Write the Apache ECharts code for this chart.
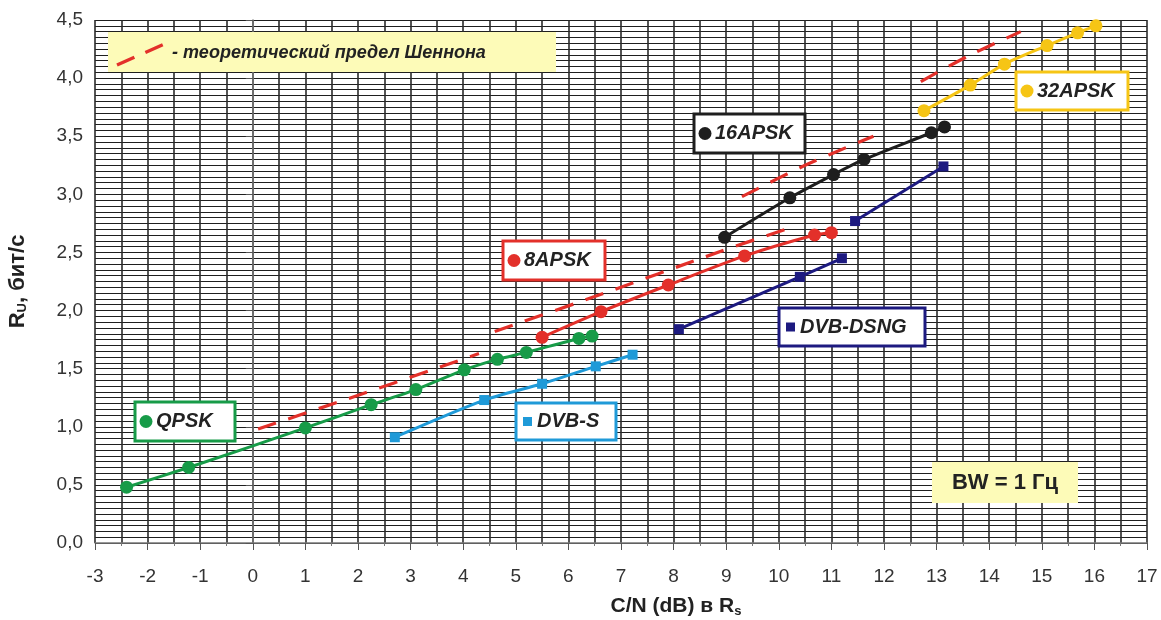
<!DOCTYPE html>
<html>
<head>
<meta charset="utf-8">
<script src="https://cdn.jsdelivr.net/npm/echarts@6/dist/echarts.min.js"></script>
<style>
html,body{margin:0;padding:0;background:#fff;}
#chart{width:1161px;height:620px;}
</style>
</head>
<body>
<div id="chart"></div>
<script>
// ---- data ----
const qpskX = [-2.40, -1.22, 1.00, 2.25, 3.10, 4.02, 4.65, 5.20, 6.20, 6.45];
const qpskY = [0.48, 0.65, 0.99, 1.19, 1.32, 1.49, 1.58, 1.64, 1.76, 1.78];
const apsk8X = [5.50, 6.62, 7.90, 9.35, 10.68, 11.00];
const apsk8Y = [1.77, 1.99, 2.22, 2.47, 2.65, 2.67];
const apsk16X = [8.97, 10.21, 11.04, 11.62, 12.90, 13.15];
const apsk16Y = [2.63, 2.97, 3.17, 3.30, 3.53, 3.58];
const apsk32X = [12.76, 13.64, 14.29, 15.10, 15.68, 16.03];
const apsk32Y = [3.72, 3.94, 4.12, 4.28, 4.39, 4.45];
const dvbsX = [2.70, 4.40, 5.50, 6.52, 7.22];
const dvbsY = [0.91, 1.23, 1.37, 1.52, 1.62];
const dsngAX = [8.10, 10.40, 11.20];
const dsngAY = [1.84, 2.29, 2.45];
const dsngBX = [11.45, 13.13];
const dsngBY = [2.77, 3.24];
// Shannon theoretical limit segments (dashed)
const shan1X = [0.10, 1.80, 3.60, 4.30];
const shan1Y = [0.98, 1.24, 1.52, 1.63];
const shan2X = [4.60, 6.50, 8.90, 10.20];
const shan2Y = [1.82, 2.12, 2.51, 2.71];
const shan3X = [9.30, 10.50, 11.80];
const shan3Y = [2.98, 3.25, 3.50];
const shan4X = [12.70, 13.60, 14.60];
const shan4Y = [3.97, 4.19, 4.40];
// axis ranges / ticks
const xMin = -3, xMax = 17, xStep = 1;
const yMin = 0, yMax = 4.5, yStep = 0.5;

const pair = (xs, ys) => xs.map((x, i) => [x, ys[i]]);

const C = {
  green: '#179b48', red: '#e3302a', black: '#1e1e1e', yellow: '#f6c515',
  blue: '#1f9ad8', navy: '#1d1a80', dash: '#e3302a'
};
const FONT = "'Liberation Sans', Arial, sans-serif";
const ZT = 100;

function ptSeries(name, data, color, symbol, size) {
  return {
    name, type: 'line', data, smooth: 0.25,
    symbol, symbolSize: size, showSymbol: true,
    lineStyle: { color, width: 3 },
    itemStyle: { color },
    z: 5
  };
}
function shanSeries(data) {
  return {
    name: 'теоретический предел Шеннона', type: 'line', data, smooth: 0.3,
    symbol: 'none',
    lineStyle: { color: C.dash, width: 3.2, type: [19, 13] },
    z: 4
  };
}

function box(x, y, w, h, color, mark, text) {
  const children = [
    { type: 'rect', z: ZT, shape: { x, y, width: w, height: h },
      style: { fill: '#fff', stroke: color, lineWidth: 3 } }
  ];
  const cy = y + h / 2;
  if (mark === 'circle') {
    children.push({ type: 'circle', z: ZT + 1, shape: { cx: x + 11, cy, r: 6.5 }, style: { fill: color } });
  } else {
    children.push({ type: 'rect', z: ZT + 1, shape: { x: x + 7, y: cy - 4.5, width: 9, height: 9 }, style: { fill: color } });
  }
  children.push({ type: 'text', z: ZT + 1, x: x + 21, y: cy,
    style: { text, fill: '#222', font: "italic bold 20px " + FONT, verticalAlign: 'middle', align: 'left' } });
  return children;
}

const chart = echarts.init(document.getElementById('chart'), null, { renderer: 'canvas' });

const gridLine = { show: true, lineStyle: { color: '#1f1f1f', width: 1 } };
const gridLineV = { show: true, lineStyle: { color: '#2a2a2a', width: 1.6 } };

const option = {
  backgroundColor: '#fff',
  animation: false,
  grid: { left: 95, right: 14, top: 20, bottom: 77, containLabel: false, outerBoundsMode: 'none' },
  xAxis: {
    type: 'value', min: xMin, max: xMax, interval: xStep,
    name: '{r|C/N (dB) в R}{sub|s}',
    nameLocation: 'middle', nameGap: 52,
    nameTextStyle: {
      padding: [0, 0, 0, 110],
      rich: {
        r: { fontFamily: FONT, fontWeight: 'bold', fontSize: 21, color: '#222' },
        sub: { fontFamily: FONT, fontWeight: 'bold', fontSize: 13, color: '#222', padding: [10, 0, 0, 0] }
      }
    },
    axisLine: { show: true, lineStyle: { color: '#777', width: 1.5 } },
    axisTick: { show: true, length: 7, lineStyle: { color: '#555' } },
    minorTick: { show: true, splitNumber: 2, length: 3, lineStyle: { color: '#777' } },
    axisLabel: { fontFamily: FONT, fontSize: 19, color: '#333', margin: 24 },
    splitLine: gridLineV,
    minorSplitLine: gridLineV
  },
  yAxis: {
    type: 'value', min: yMin, max: yMax, interval: yStep,
    name: '{r|R}{sub|U}{r|, бит/с}',
    nameLocation: 'middle', nameGap: 66, nameRotate: 90,
    nameTextStyle: {
      rich: {
        r: { fontFamily: FONT, fontWeight: 'bold', fontSize: 22, color: '#222' },
        sub: { fontFamily: FONT, fontWeight: 'bold', fontSize: 13, color: '#222', padding: [10, 0, 0, 0] }
      }
    },
    axisLine: { show: true, lineStyle: { color: '#777', width: 1.5 } },
    axisTick: { show: true, length: 7, lineStyle: { color: '#555' } },
    minorTick: { show: false, splitNumber: 10 },
    axisLabel: {
      fontFamily: FONT, fontSize: 19, color: '#333', margin: 12,
      formatter: v => v.toFixed(1).replace('.', ',')
    },
    splitLine: gridLine,
    minorSplitLine: gridLine
  },
  series: [
    shanSeries(pair(shan1X, shan1Y)),
    shanSeries(pair(shan2X, shan2Y)),
    shanSeries(pair(shan3X, shan3Y)),
    shanSeries(pair(shan4X, shan4Y)),
    ptSeries('QPSK', pair(qpskX, qpskY), C.green, 'circle', 13),
    ptSeries('8APSK', pair(apsk8X, apsk8Y), C.red, 'circle', 13),
    ptSeries('16APSK', pair(apsk16X, apsk16Y), C.black, 'circle', 13),
    ptSeries('32APSK', pair(apsk32X, apsk32Y), C.yellow, 'circle', 13),
    ptSeries('DVB-S', pair(dvbsX, dvbsY), C.blue, 'rect', 10),
    ptSeries('DVB-DSNG', pair(dsngAX, dsngAY), C.navy, 'rect', 10),
    ptSeries('DVB-DSNG', pair(dsngBX, dsngBY), C.navy, 'rect', 10)
  ],
  graphic: { elements: [
    { type: 'rect', z: ZT, shape: { x: 108, y: 32, width: 448, height: 40 }, style: { fill: '#fdfbb8' } },
    { type: 'line', z: ZT + 1, shape: { x1: 117, y1: 65, x2: 169, y2: 42 },
      style: { stroke: C.dash, lineWidth: 3.4, lineDash: [19, 12] } },
    { type: 'text', z: ZT + 1, x: 172, y: 53,
      style: { text: '- теоретический предел Шеннона', fill: '#222',
        font: "italic bold 18px " + FONT, verticalAlign: 'middle', align: 'left' } },
    ...box(135, 402, 100, 39, C.green, 'circle', 'QPSK'),
    ...box(503, 241, 102, 39, C.red, 'circle', '8APSK'),
    ...box(694, 114, 111, 39, C.black, 'circle', '16APSK'),
    ...box(1016, 72, 112, 38, C.yellow, 'circle', '32APSK'),
    ...box(516, 403, 100, 37, C.blue, 'rect', 'DVB-S'),
    ...box(779, 308, 146, 38, C.navy, 'rect', 'DVB-DSNG'),
    { type: 'rect', z: ZT, shape: { x: 932, y: 462, width: 146, height: 41 }, style: { fill: '#fdfbb8' } },
    { type: 'text', z: ZT + 1, x: 1005, y: 483,
      style: { text: 'BW = 1 Гц', fill: '#222', font: "bold 22px " + FONT,
        verticalAlign: 'middle', align: 'center' } }
  ] }
};
chart.setOption(option);
</script>
</body>
</html>
